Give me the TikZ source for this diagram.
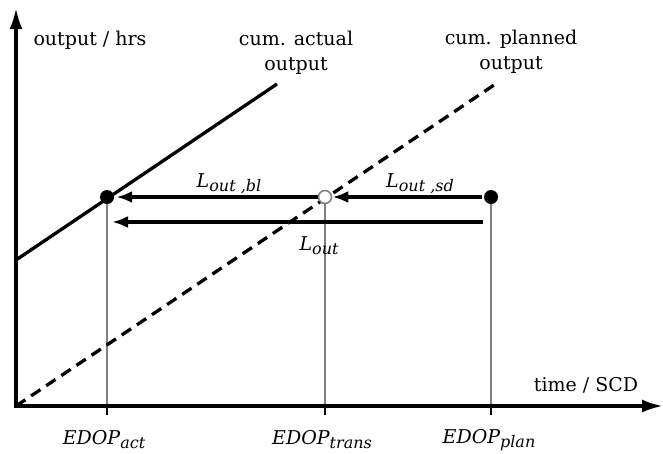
\documentclass[tikz,border=0pt]{standalone}
\usepackage{fontspec}
\setmainfont{DejaVu Serif}
\usetikzlibrary{arrows.meta}
\definecolor{guide}{HTML}{808080}
\newcommand\mysub[1]{\raisebox{-0.4ex}{\fontsize{16}{16}\selectfont\itshape #1}}
\begin{document}
\begin{tikzpicture}[x=1pt,y=-1pt,
  lbl/.style={font=\fontsize{19}{25}\selectfont, inner sep=0pt, align=center},
  axis/.style={line width=3.3pt, {Latex[length=21pt,width=13pt]}-{Latex[length=21pt,width=13pt]}},
  curve/.style={line width=3.3pt},
  dcurve/.style={line width=3.3pt, dash pattern=on 11.2pt off 7pt},
  guideline/.style={draw=guide, line width=2pt},
  tickmark/.style={line width=2.8pt},
  arr/.style={line width=3.3pt, -{Latex[length=16pt,width=12pt]}},
  bdot/.style={circle, fill=black, minimum size=14pt, inner sep=0pt},
  odot/.style={circle, fill=white, draw=guide, line width=1.6pt, minimum size=13pt, inner sep=0pt}]
\useasboundingbox (0,0) rectangle (663,453);
% axes
\coordinate (O) at (16,406);
\coordinate (ytop) at (16,8);
\coordinate (xend) at (663,406);
% guide lines and ticks
\coordinate (actbase) at (107,406);
\coordinate (trbase) at (325,406);
\coordinate (planbase) at (491,406);
\draw[guideline] (107,197) -- (actbase);
\draw[guideline] (325,197) -- (trbase);
\draw[guideline] (491,197) -- (planbase);
\draw[tickmark] (actbase) -- ++(0,9);
\draw[tickmark] (trbase) -- ++(0,9);
\draw[tickmark] (planbase) -- ++(0,9);
% curves
\coordinate (a1) at (16,260);
\coordinate (a2) at (277,84);
\coordinate (p2) at (494,85);
\draw[curve] (a1) -- (a2);
\draw[dcurve] (O) -- (p2);
\draw[axis] (ytop) -- (O) -- (xend);
% points
\node[bdot] (act) at (107,197) {};
\node[odot] (tr) at (325,197) {};
\node[bdot] (plan) at (491,197) {};
% arrows
\draw[arr, shorten <=2pt] (plan.west) -- (tr.east);
\draw[arr, shorten >=2pt] (tr.west) -- (act.east);
\coordinate (lr) at (483,222);
\coordinate (ll) at (112,222);
\draw[arr] (lr) -- (ll);
% labels
\node[lbl] (ylab) at (90,40) {output / hrs};
\node[lbl] (xlab) at (586,385) {time / SCD};
\node[lbl] (alab) at (296,53) {cum. actual\\output};
\node[lbl] (plab) at (511,52) {cum. planned\\output};
\node[lbl] (lbl1) at (229,184) {\itshape L\mysub{out ,bl}};
\node[lbl] (lbl2) at (420,184) {\itshape L\mysub{out ,sd}};
\node[lbl] (lbl3) at (319,246) {\itshape L\mysub{out}};
\node[lbl] (e1) at (104,440) {\itshape EDOP\mysub{act}};
\node[lbl] (e2) at (322,440) {\itshape EDOP\mysub{trans}};
\node[lbl] (e3) at (489,440) {\itshape EDOP\mysub{plan}};
\end{tikzpicture}
\end{document}
